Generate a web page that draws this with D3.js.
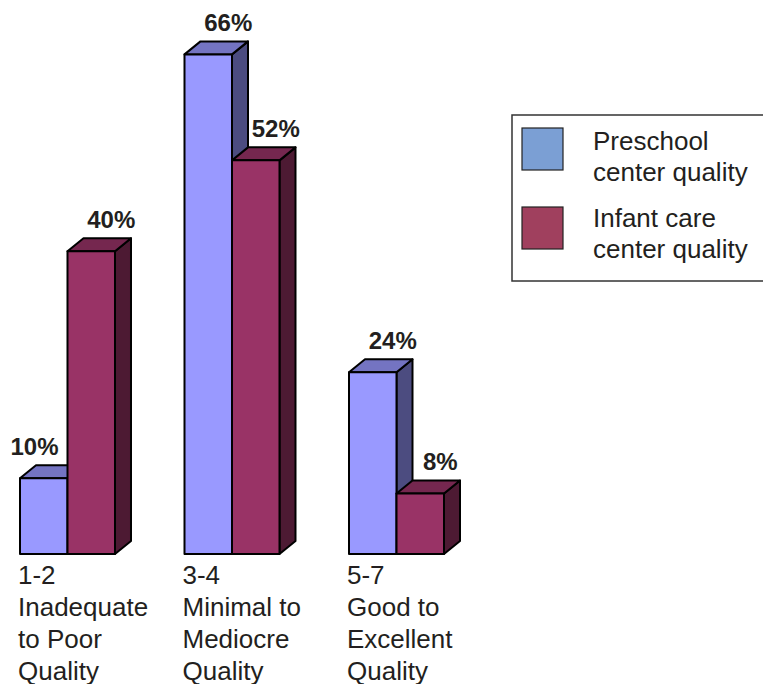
<!DOCTYPE html>
<html>
<head>
<meta charset="utf-8">
<script src="https://cdn.jsdelivr.net/npm/d3@7"></script>
<style>
  html, body { margin: 0; padding: 0; background: #fff; }
  svg { display: block; font-family: "Liberation Sans", Arial, Helvetica, sans-serif; }
</style>
</head>
<body>
<svg id="chart" width="763" height="684"></svg>
<script>
// Quality ratings of child care centers (share of centers in each rating band)
const categories = [
  ["1-2", "Inadequate", "to Poor", "Quality"],
  ["3-4", "Minimal to", "Mediocre", "Quality"],
  ["5-7", "Good to", "Excellent", "Quality"]
];
const seriesNames = ["Preschool center quality", "Infant care center quality"];
const legendLines = [["Preschool", "center quality"], ["Infant care", "center quality"]];
const preschool = [10, 66, 24];
const infant = [40, 52, 8];

const svg = d3.select("#chart");
const textColor = "#231f20";

// Face colours per series: front, top, side
const faces = [
  { front: "#9999ff", top: "#7474c2", side: "#4c4c80" },
  { front: "#993366", top: "#75274f", side: "#4d1a33" }
];
const legendSwatch = ["#7b9fd4", "#a0405e"];

const baseY = 554;
const depthX = 16, depthY = 13;

const x0 = d3.scaleBand()
  .domain(d3.range(categories.length))
  .range([20, 444])
  .paddingInner(0.4225)
  .paddingOuter(0);
const x1 = d3.scaleBand()
  .domain(d3.range(seriesNames.length))
  .range([0, x0.bandwidth()]);
const y = d3.scaleLinear().domain([0, 100]).range([baseY, baseY - 757]);

const series = [preschool, infant];
const bars = [];
categories.forEach((c, i) => {
  series.forEach((vals, s) => {
    bars.push({ cat: i, s, v: vals[i] });
  });
});

const g = svg.append("g");
bars.forEach(b => {
  const xl = x0(b.cat) + x1(b.s);
  const xr = xl + x1.bandwidth();
  const yt = y(b.v);
  const col = faces[b.s];
  const bg = g.append("g")
    .attr("stroke", "#000")
    .attr("stroke-width", 2)
    .attr("stroke-linejoin", "round");
  // right side face
  bg.append("path")
    .attr("fill", col.side)
    .attr("d", `M${xr},${yt}L${xr + depthX},${yt - depthY}L${xr + depthX},${baseY - depthY}L${xr},${baseY}Z`);
  // top face
  bg.append("path")
    .attr("fill", col.top)
    .attr("d", `M${xl},${yt}L${xl + depthX},${yt - depthY}L${xr + depthX},${yt - depthY}L${xr},${yt}Z`);
  // front face
  bg.append("rect")
    .attr("x", xl).attr("y", yt)
    .attr("width", xr - xl).attr("height", baseY - yt)
    .attr("fill", col.front);
  b.xl = xl; b.xr = xr; b.yt = yt;
});

// Value labels above each bar; shifted left when the neighbouring bar is taller
bars.forEach(b => {
  const neighbour = bars.find(o => o.cat === b.cat && o.s === b.s + 1);
  const blocked = neighbour && neighbour.v > b.v;
  g.append("text")
    .attr("x", blocked ? b.xr - 9 : (b.xl + b.xr) / 2 + 20)
    .attr("y", b.yt - 23)
    .attr("text-anchor", blocked ? "end" : "middle")
    .attr("font-size", 24)
    .attr("font-weight", "bold")
    .attr("fill", textColor)
    .text(b.v + "%");
});

// Category labels under each group
categories.forEach((lines, i) => {
  const t = g.append("text")
    .attr("x", x0(i) - 2)
    .attr("font-size", 26)
    .attr("fill", textColor);
  lines.forEach((ln, k) => {
    t.append("tspan").attr("x", x0(i) - 2).attr("y", 584 + k * 32).text(ln);
  });
});

// Legend
const lg = svg.append("g");
lg.append("rect")
  .attr("x", 512).attr("y", 115)
  .attr("width", 270).attr("height", 166)
  .attr("fill", "#fff")
  .attr("stroke", "#333").attr("stroke-width", 1.5);
seriesNames.forEach((name, s) => {
  const top = 128 + s * 79;
  lg.append("rect")
    .attr("x", 522).attr("y", top)
    .attr("width", 41).attr("height", 42)
    .attr("fill", legendSwatch[s])
    .attr("stroke", "#222").attr("stroke-width", 1.2);
  const t = lg.append("text")
    .attr("font-size", 26)
    .attr("fill", textColor);
  legendLines[s].forEach((ln, k) => {
    t.append("tspan").attr("x", 593).attr("y", 150 + s * 77 + k * 31).text(ln);
  });
});
</script>
</body>
</html>
